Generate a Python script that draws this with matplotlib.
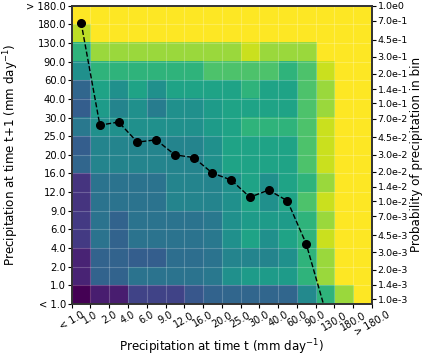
import numpy as np
import matplotlib
matplotlib.use("Agg")
import matplotlib.pyplot as plt
from matplotlib.ticker import NullLocator

bin_labels = ["< 1.0", "1.0", "2.0", "4.0", "6.0", "9.0", "12.0", "16.0", "20.0",
              "25.0", "30.0", "40.0", "60.0", "90.0", "130.0", "180.0", "> 180.0"]

# colour level of each cell (viridis, 0..1), rows from "< 1.0" upward
cells = [
    [0.00, 0.08, 0.08, 0.20, 0.20, 0.20, 0.27, 0.32, 0.33, 0.33, 0.33, 0.33, 0.47, 0.65, 0.85, 1.00],
    [0.10, 0.32, 0.32, 0.38, 0.38, 0.38, 0.38, 0.40, 0.50, 0.55, 0.55, 0.55, 0.65, 0.85, 1.00, 1.00],
    [0.10, 0.32, 0.32, 0.30, 0.30, 0.36, 0.36, 0.38, 0.45, 0.45, 0.45, 0.50, 0.65, 0.85, 1.00, 1.00],
    [0.17, 0.38, 0.32, 0.38, 0.38, 0.38, 0.38, 0.40, 0.50, 0.58, 0.50, 0.58, 0.65, 0.92, 1.00, 1.00],
    [0.17, 0.38, 0.32, 0.38, 0.38, 0.38, 0.38, 0.40, 0.50, 0.55, 0.55, 0.55, 0.65, 0.85, 1.00, 1.00],
    [0.15, 0.38, 0.38, 0.38, 0.38, 0.45, 0.45, 0.45, 0.50, 0.58, 0.50, 0.58, 0.72, 0.92, 1.00, 1.00],
    [0.15, 0.38, 0.38, 0.38, 0.38, 0.45, 0.45, 0.45, 0.50, 0.58, 0.50, 0.58, 0.65, 0.85, 1.00, 1.00],
    [0.33, 0.45, 0.45, 0.45, 0.45, 0.45, 0.45, 0.50, 0.58, 0.58, 0.58, 0.58, 0.72, 0.92, 1.00, 1.00],
    [0.30, 0.45, 0.45, 0.45, 0.45, 0.45, 0.45, 0.50, 0.58, 0.58, 0.58, 0.58, 0.72, 0.92, 1.00, 1.00],
    [0.40, 0.50, 0.50, 0.50, 0.50, 0.50, 0.50, 0.55, 0.58, 0.65, 0.65, 0.65, 0.72, 0.92, 1.00, 1.00],
    [0.30, 0.55, 0.45, 0.50, 0.42, 0.50, 0.50, 0.55, 0.58, 0.58, 0.58, 0.58, 0.72, 0.85, 1.00, 1.00],
    [0.33, 0.58, 0.50, 0.58, 0.50, 0.58, 0.58, 0.58, 0.58, 0.65, 0.58, 0.58, 0.72, 0.85, 1.00, 1.00],
    [0.50, 0.65, 0.65, 0.65, 0.65, 0.65, 0.65, 0.72, 0.72, 0.72, 0.72, 0.65, 0.72, 0.92, 1.00, 1.00],
    [0.65, 0.85, 0.85, 0.85, 0.85, 0.85, 0.85, 0.85, 0.85, 0.92, 0.85, 0.85, 0.85, 1.00, 1.00, 1.00],
    [0.90, 1.00, 1.00, 1.00, 1.00, 1.00, 1.00, 1.00, 1.00, 1.00, 1.00, 1.00, 1.00, 1.00, 1.00, 1.00],
    [1.00, 1.00, 1.00, 1.00, 1.00, 1.00, 1.00, 1.00, 1.00, 1.00, 1.00, 1.00, 1.00, 1.00, 1.00, 1.00],
]

# probability of precipitation in each bin at time t
bin_prob = [0.67, 0.060, 0.0645, 0.0402, 0.0425, 0.0298, 0.0280, 0.0194,
            0.0165, 0.0110, 0.0130, 0.0101, 0.00368, 0.00079]

prob_ticks = [1e-3, 1.4e-3, 2e-3, 3e-3, 4.5e-3, 7e-3, 1e-2, 1.4e-2, 2e-2, 3e-2,
              4.5e-2, 7e-2, 1e-1, 1.4e-1, 2e-1, 3e-1, 4.5e-1, 7e-1, 1.0]
prob_labels = ["1.0e-3", "1.4e-3", "2.0e-3", "3.0e-3", "4.5e-3", "7.0e-3", "1.0e-2",
               "1.4e-2", "2.0e-2", "3.0e-2", "4.5e-2", "7.0e-2", "1.0e-1", "1.4e-1",
               "2.0e-1", "3.0e-1", "4.5e-1", "7.0e-1", "1.0e0"]

fig = plt.figure(figsize=(4.22, 3.63), dpi=100)
ax = fig.add_axes([0.170, 0.1625, 0.711, 0.822])

n = len(cells)
ax.imshow(np.array(cells), cmap="viridis", vmin=0, vmax=1, origin="lower",
          extent=(0, n, 0, n), aspect="auto", interpolation="nearest")
ax.set_xlim(0, n)
ax.set_ylim(0, n)
ax.set_xticks(np.arange(n + 1))
ax.set_yticks(np.arange(n + 1))
ax.set_xticklabels(bin_labels, rotation=30, ha="center", fontsize=7)
ax.set_yticklabels(bin_labels, fontsize=7.2)
ax.tick_params(length=3, width=0.8, pad=1.2)
ax.grid(True, color="white", alpha=0.22, linewidth=0.8)
ax.set_xlabel("Precipitation at time t (mm day$^{-1}$)", fontsize=8.6, labelpad=0)
ax.set_ylabel("Precipitation at time t+1 (mm day$^{-1}$)", fontsize=8.6, labelpad=4)
for s in ax.spines.values():
    s.set_linewidth(1.2)
    s.set_color("#333333")

ax2 = ax.twinx()
xs = np.arange(len(bin_prob)) + 0.5
ax2.plot(xs, bin_prob, "k--o", markersize=5.5, linewidth=1.0)
ax2.set_yscale("log")
ax2.set_ylim(8.9e-4, 1.0)
ax2.set_yticks(prob_ticks)
ax2.set_yticklabels(prob_labels, fontsize=6.8)
ax2.yaxis.set_minor_locator(NullLocator())
ax2.tick_params(length=3, width=0.8, pad=1.2)
ax2.set_ylabel("Probability of precipitation in bin", fontsize=8.6, labelpad=1)
for s in ax2.spines.values():
    s.set_linewidth(1.2)
    s.set_color("#333333")

fig.savefig("out.png", dpi=100)
